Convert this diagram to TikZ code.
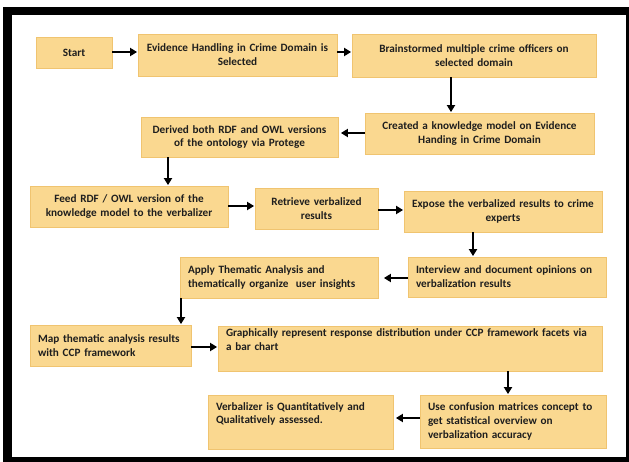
\documentclass[tikz,border=0pt]{standalone}
\usepackage{fontspec}
\setmainfont{Carlito}
\usetikzlibrary{arrows.meta}
\definecolor{boxfill}{HTML}{FAD890}
\definecolor{boxline}{HTML}{F0C470}
\definecolor{inkc}{HTML}{1E1E1E}
\tikzset{
  stepbox/.style={draw=boxline, line width=0.8pt, fill=boxfill, inner sep=0pt,
    font=\fontsize{11.2}{13.8}\selectfont\bfseries, text=inkc},
  flow/.style={-{Triangle[length=7pt,width=8pt]}, line width=2pt, black, shorten >=0.5pt},
}
% box placed by its corners: #1 name, (#2,#3) top-left, (#4,#5) bottom-right
\newcommand{\flowbox}[7]{%
  \node[stepbox, minimum width=#4pt-#2pt, minimum height=#5pt-#3pt,
        text width=#4pt-#2pt-16pt, align=#6]
        (#1) at ({(#2+#4)/2}, {(#3+#5)/2}) {#7};}
\begin{document}
\begin{tikzpicture}[x=1pt, y=-1pt]
\useasboundingbox (0,0) rectangle (629,462);
% frame
\fill[black] (3,7) rectangle (629,462);
\fill[white] (12,15) rectangle (626,457);

\flowbox{start}{36}{37}{112}{68}{center}{Start}
\flowbox{evid}{138}{34}{337}{76}{center}{Evidence Handling in Crime Domain is\\Selected}
\flowbox{brain}{352}{34}{596}{77}{center}{Brainstormed multiple crime officers on\\selected domain}
\flowbox{model}{365}{113}{594}{154}{center}{Created a knowledge model on Evidence\\Handing in Crime Domain}
\flowbox{derive}{141}{117}{338}{157}{center}{Derived both RDF and OWL versions\\of the ontology via Protege}
\flowbox{feed}{30}{186}{228}{227}{center}{Feed RDF / OWL version of the\\knowledge model to the verbalizer}
\flowbox{retr}{255}{188}{378}{229}{center}{Retrieve verbalized\\results}
\flowbox{expose}{404}{191}{602}{232}{center}{Expose the verbalized results to crime\\experts}
\flowbox{interv}{408}{257}{606}{297}{left}{Interview and document opinions on\\verbalization results}
\flowbox{apply}{180}{257}{378}{298}{left}{Apply Thematic Analysis and\\thematically organize\ \ user insights}
\flowbox{map}{30}{325}{191}{366}{left}{Map thematic analysis results\\with CCP framework}
\flowbox{graph}{218}{326}{602}{371}{left}{Graphically represent response distribution under CCP framework facets via\\a bar chart\\\strut}
\flowbox{conf}{420}{395}{606}{448}{left}{Use confusion matrices concept to\\get statistical overview on\\verbalization accuracy}
\flowbox{verb}{208}{395}{393}{449}{left}{Verbalizer is Quantitatively and\\Qualitatively assessed.\\\strut}

% connectors
\draw[flow] (start.east |- 0,52) -- (evid.west |- 0,52);
\draw[flow] (evid.east |- 0,52) -- (brain.west |- 0,52);
\draw[flow] (brain.south -| 451,0) -- (model.north -| 451,0);
\draw[flow] (model.west |- 0,133) -- ([xshift=2pt]derive.east |- 0,133);
\draw[flow] (derive.south -| 168,0) -- (feed.north -| 168,0);
\draw[flow] (feed.east |- 0,206) -- (retr.west |- 0,206);
\draw[flow] (retr.east |- 0,210) -- (expose.west |- 0,210);
\draw[flow] (expose.south -| 473,0) -- (interv.north -| 473,0);
\draw[flow] (interv.west |- 0,278) -- ([xshift=5pt]apply.east |- 0,278);
\draw[flow] (apply.south -| 181,0) -- (map.north -| 181,0);
\draw[flow] (map.east |- 0,347) -- (graph.west |- 0,347);
\draw[flow] (graph.south -| 508,0) -- (conf.north -| 508,0);
\draw[flow] (conf.west |- 0,418) -- ([xshift=2pt]verb.east |- 0,418);
\end{tikzpicture}
\end{document}
